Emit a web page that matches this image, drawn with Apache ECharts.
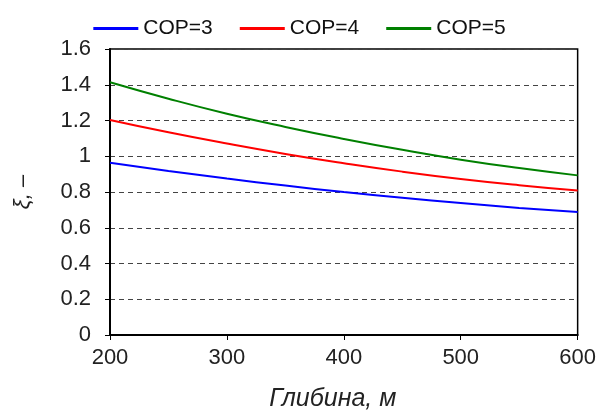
<!DOCTYPE html>
<html>
<head>
<meta charset="utf-8">
<script src="https://cdn.jsdelivr.net/npm/echarts@6/dist/echarts.min.js"></script>
<style>
  html, body { margin: 0; padding: 0; background: #fff; }
  #chart { width: 599px; height: 417px; }
</style>
</head>
<body>
<div id="chart"></div>
<script>
// глибина, м
var depth = [200, 250, 300, 350, 400, 450, 500, 550, 600];
var cop3 = [0.963, 0.918, 0.875, 0.836, 0.800, 0.768, 0.738, 0.711, 0.688];
var cop4 = [1.203, 1.134, 1.071, 1.013, 0.961, 0.914, 0.873, 0.838, 0.808];
var cop5 = [1.414, 1.322, 1.238, 1.164, 1.097, 1.036, 0.981, 0.934, 0.893];
var names = ['COP=3', 'COP=4', 'COP=5'];
var colors = ['#0000ff', '#ff0000', '#008000'];

function pairs(ys) {
    return depth.map(function (x, i) { return [x, ys[i]]; });
}

var font = 'Arial, "Liberation Sans", sans-serif';

var chart = echarts.init(document.getElementById('chart'));
chart.setOption({
    animation: false,
    color: colors,
    legend: {
        top: 13,
        left: 'center',
        itemWidth: 45,
        itemHeight: 3,
        itemGap: 27,
        icon: 'rect',
        textStyle: { fontFamily: font, fontSize: 21, color: '#111' },
        data: names
    },
    grid: {
        left: 110, right: 21, top: 49, bottom: 79,
        show: true, borderColor: '#000', borderWidth: 1.5
    },
    xAxis: {
        type: 'value',
        min: 200, max: 600, interval: 100,
        name: 'Глибина, м',
        nameLocation: 'middle',
        nameGap: 52,
        nameTextStyle: { fontFamily: font, fontSize: 25, fontStyle: 'italic', color: '#222', padding: [0, 22, 0, 0] },
        axisLine: { lineStyle: { color: '#000', width: 2 } },
        axisTick: { show: true, length: 5, lineStyle: { color: '#000' } },
        axisLabel: { fontFamily: font, fontSize: 22, color: '#222', margin: 12 },
        splitLine: { show: false }
    },
    yAxis: {
        type: 'value',
        min: 0, max: 1.6, interval: 0.2,
        name: 'ξ, –',
        nameLocation: 'middle',
        nameGap: 76,
        nameRotate: 90,
        nameTextStyle: { fontFamily: font, fontSize: 22, fontStyle: 'italic', color: '#222' },
        axisLine: { show: true, lineStyle: { color: '#000', width: 2 } },
        axisTick: { show: true, length: 5, lineStyle: { color: '#000' } },
        axisLabel: { fontFamily: font, fontSize: 22, color: '#222', margin: 19 },
        splitLine: { show: true, lineStyle: { color: '#444', type: [5, 4], width: 1.2 } }
    },
    series: [
        { name: names[0], type: 'line', smooth: true, showSymbol: false, lineStyle: { width: 2 }, data: pairs(cop3) },
        { name: names[1], type: 'line', smooth: true, showSymbol: false, lineStyle: { width: 2 }, data: pairs(cop4) },
        { name: names[2], type: 'line', smooth: true, showSymbol: false, lineStyle: { width: 2 }, data: pairs(cop5) }
    ]
});
</script>
</body>
</html>
